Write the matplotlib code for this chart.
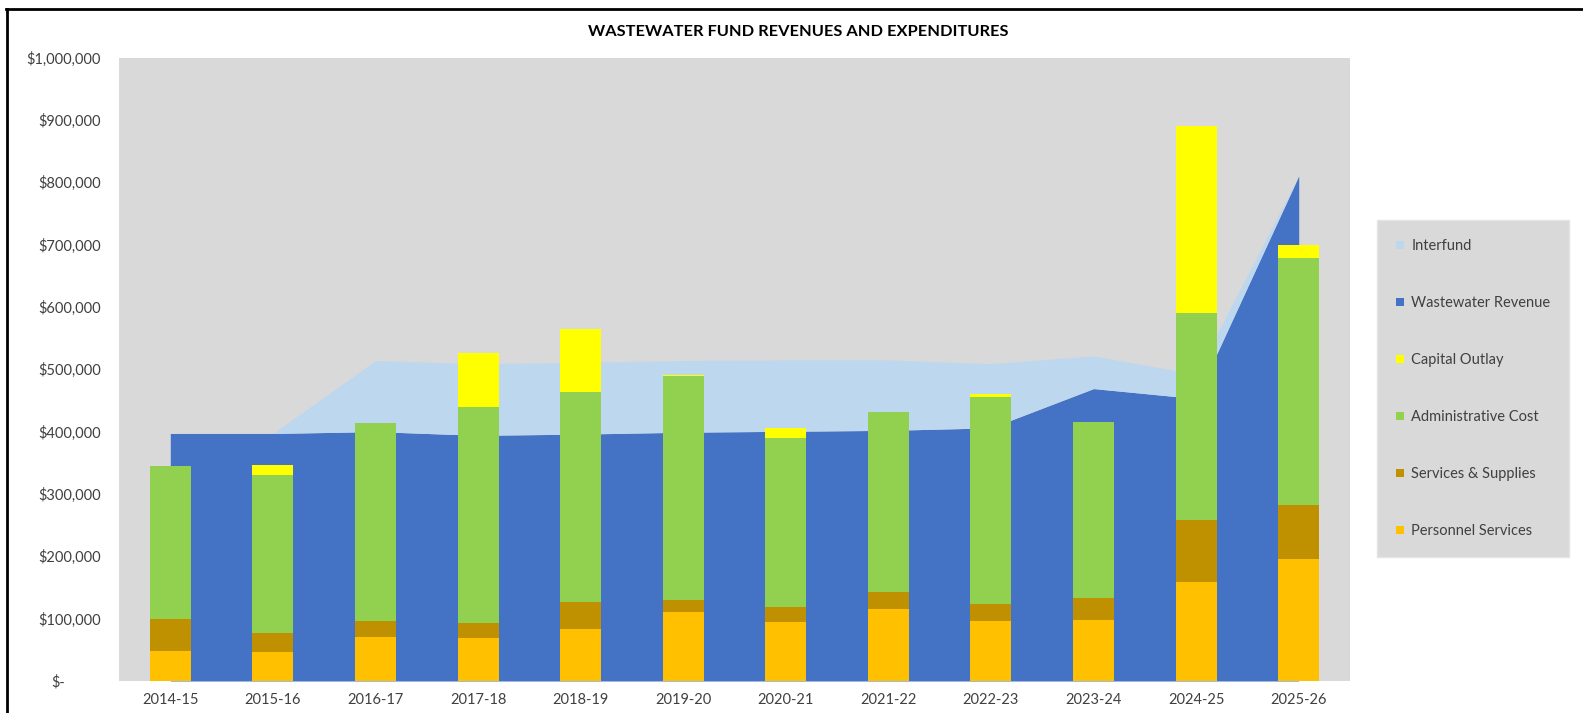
import matplotlib
matplotlib.use("Agg")
import matplotlib.pyplot as plt
import numpy as np
from matplotlib.lines import Line2D
from matplotlib.ticker import FuncFormatter, FixedLocator
import matplotlib.transforms as mtransforms

plt.rcParams['font.family'] = ['Lato', 'DejaVu Sans']

years = ["2014-15", "2015-16", "2016-17", "2017-18", "2018-19", "2019-20",
         "2020-21", "2021-22", "2022-23", "2023-24", "2024-25", "2025-26"]

wastewater_revenue = [397000, 397000, 400000, 394000, 396000, 399000,
                      400500, 402000, 406000, 469000, 453000, 810000]
interfund = [0, 0, 114000, 115000, 115000, 115000,
             114500, 113000, 103000, 52500, 39000, 0]

personnel = [48000, 46500, 71000, 69000, 83000, 111000,
             94000, 115000, 96000, 98000, 158000, 195000]
services = [51000, 30000, 26000, 24000, 44000, 19000,
            24000, 27500, 27000, 35000, 101000, 87000]
admin = [246000, 254000, 317500, 346000, 336000, 359000,
         272000, 289000, 332000, 282000, 331000, 396000]
capital = [0, 15500, 0, 86500, 102000, 2000,
           15000, 0, 5600, 0, 300000, 20600]

C_INTERFUND = "#BDD7EE"
C_REVENUE = "#4472C4"
C_CAPITAL = "#FFFF00"
C_ADMIN = "#92D050"
C_SERVICES = "#BF9000"
C_PERSONNEL = "#FFC000"
TXT = "#404040"

W, H = 1583, 713
fig = plt.figure(figsize=(W / 100, H / 100), dpi=100)
fig.patch.set_facecolor("white")

ax = fig.add_axes([119 / W, 1 - 681 / H, (1350 - 119) / W, (681 - 57.5) / H])
ax.set_facecolor("#D9D9D9")

x = np.arange(len(years))
rev = np.array(wastewater_revenue, dtype=float)
inter = np.array(interfund, dtype=float)

ax.fill_between(x, 0, rev, color=C_REVENUE, linewidth=0, zorder=1)
ax.fill_between(x, rev, rev + inter, color=C_INTERFUND, linewidth=0, zorder=1)

bw = 0.40
p = np.array(personnel, float)
s = np.array(services, float)
a = np.array(admin, float)
c = np.array(capital, float)
ax.bar(x, p, bw, color=C_PERSONNEL, zorder=2, linewidth=0)
ax.bar(x, s, bw, bottom=p, color=C_SERVICES, zorder=2, linewidth=0)
ax.bar(x, a, bw, bottom=p + s, color=C_ADMIN, zorder=2, linewidth=0)
ax.bar(x, c, bw, bottom=p + s + a, color=C_CAPITAL, zorder=2, linewidth=0)

ax.set_xlim(-0.5, len(years) - 0.5)
ax.set_ylim(0, 1000000)
for sp in ax.spines.values():
    sp.set_visible(False)

ax.set_xticks(x)
ax.set_xticklabels(years, fontsize=10.5, color=TXT)
ax.yaxis.set_major_locator(FixedLocator(np.arange(0, 1000001, 100000)))


def fmt(v, pos):
    if v == 0:
        return "$-"
    return "${:,.0f}".format(v)


ax.yaxis.set_major_formatter(FuncFormatter(fmt))
ax.tick_params(axis="both", length=0, labelsize=10.5, labelcolor=TXT)
ax.tick_params(axis="y", pad=13)
ax.tick_params(axis="x", pad=9)

fig.canvas.draw()
# shift the "$-" label left as in accounting format
offset = mtransforms.ScaledTranslation(-36 / 100, 0, fig.dpi_scale_trans)
for lab in ax.get_yticklabels():
    if lab.get_text() == "$-":
        lab.set_transform(lab.get_transform() + offset)

fig.text(798 / W, 1 - 32 / H, "WASTEWATER FUND REVENUES AND EXPENDITURES",
         ha="center", va="center", fontsize=11.8, fontweight="bold", color="black")

def sq(color):
    return Line2D([], [], marker="s", linestyle="none", markersize=6,
                  markerfacecolor=color, markeredgewidth=0)

handles = [sq(C_INTERFUND), sq(C_REVENUE), sq(C_CAPITAL),
           sq(C_ADMIN), sq(C_SERVICES), sq(C_PERSONNEL)]
labels = ["Interfund", "Wastewater Revenue", "Capital Outlay",
          "Administrative Cost", "Services & Supplies", "Personnel Services"]
leg = fig.legend(handles, labels, loc="upper left",
                 bbox_to_anchor=(1377 / W, 1 - 220 / H),
                 fontsize=10.5, frameon=True, fancybox=False,
                 facecolor="#D9D9D9", edgecolor="#E4E4E4", framealpha=1,
                 handlelength=0.6, handletextpad=0.45, labelspacing=2.95,
                 borderpad=1.3, borderaxespad=0)
for t in leg.get_texts():
    t.set_color(TXT)

# outer frame lines (top and left)
fig.add_artist(Line2D([6 / W, 1], [1 - 8.5 / H, 1 - 8.5 / H], transform=fig.transFigure,
                      color="black", linewidth=2.0))
fig.add_artist(Line2D([6.5 / W, 6.5 / W], [0, 1 - 8.5 / H], transform=fig.transFigure,
                      color="black", linewidth=2.0))

fig.savefig("out.png", dpi=100)
